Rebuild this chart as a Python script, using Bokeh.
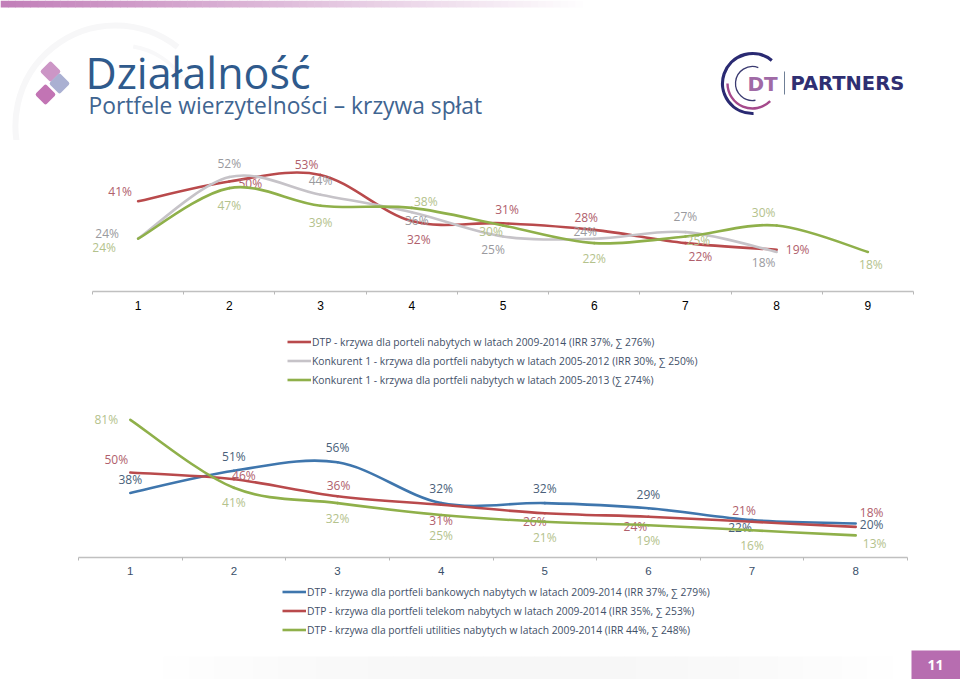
from bokeh.plotting import figure
from bokeh.layouts import column
from bokeh.models import Range1d, FixedTicker, Legend, LegendItem, ColumnDataSource
from bokeh.core.properties import value
from bokeh.embed import file_html
from bokeh.resources import INLINE
import numpy as np

# ---------- data ----------
cats_top = [1, 2, 3, 4, 5, 6, 7, 8, 9]
dtp_top = [41, 50, 53, 32, 31, 28, 22, 19]
k1_top = [24, 52, 44, 36, 25, 24, 27, 18]
k2_top = [24, 47, 39, 38, 30, 22, 25, 30, 18]
legend_top = ["DTP - krzywa dla porteli nabytych w latach 2009-2014 (IRR 37%, ∑ 276%)",
              "Konkurent 1 - krzywa dla portfeli nabytych w latach 2005-2012 (IRR 30%, ∑ 250%)",
              "Konkurent 1 - krzywa dla portfeli nabytych w latach 2005-2013 (∑ 274%)"]

cats_bot = [1, 2, 3, 4, 5, 6, 7, 8]
bank_bot = [38, 51, 56, 32, 32, 29, 22, 20]
tel_bot = [50, 46, 36, 31, 26, 24, 21, 18]
util_bot = [81, 41, 32, 25, 21, 19, 16, 13]
legend_bot = ["DTP - krzywa dla portfeli bankowych nabytych w latach 2009-2014 (IRR 37%, ∑ 279%)",
              "DTP - krzywa dla portfeli telekom nabytych w latach 2009-2014 (IRR 35%, ∑ 253%)",
              "DTP - krzywa dla portfeli utilities nabytych w latach 2009-2014 (IRR 44%, ∑ 248%)"]

title_text = "Działalność"
subtitle_text = "Portfele wierzytelności – krzywa spłat"
page_number = "11"

# ---------- styles ----------
RED, GRAY, GREEN, BLUE = "#b94a4c", "#c6c3c8", "#8fb04a", "#3f76ad"
RED_T, GRAY_T, GREEN_T, BLUE_T = "#b0606c", "#9a9a9e", "#b4c28c", "#4a5f7a"
LEG_T = "#3f5068"
FONT = value("Open Sans")

# label offsets (screen px from the data point)
off_dtp_top = [(-18, -10), (21, 2), (-14, -10), (7, 18), (4, -14), (-8, -12), (15, 13), (21, 0)]
off_k1_top = [(-31, -5), (0, -14), (0, -14), (5, 8), (-10, 13), (-9, -7), (0, -16), (-13, 11)]
off_k2_top = [(-34, 9), (0, 17), (0, 17), (14, -6), (-12, 6), (0, 15), (13, 4), (-13, -13), (3, 13)]
off_bank = [(0, -13), (0, -14), (0, -15), (0, -15), (0, -15), (0, -14), (-12, 7), (16, 1)]
off_tel = [(-14, -13), (10, -4), (1, -11), (0, 16), (-10, 8), (-13, 10), (-8, -11), (16, -14)]
off_util = [(-24, 0), (0, 15), (0, 15), (0, 20), (0, 16), (0, 15), (0, 15), (19, 8)]


def smooth(vals):
    """Bezier segments through the values (Catmull-Rom control points)."""
    y = np.array(vals, float)
    x = np.arange(1, len(y) + 1, dtype=float)
    P = np.column_stack([x, y])
    P = np.vstack([P[0], P, P[-1]])
    seg = []
    for i in range(1, len(P) - 2):
        c0 = P[i] + (P[i + 1] - P[i - 1]) / 6
        c1 = P[i + 1] - (P[i + 2] - P[i]) / 6
        seg.append((P[i], c0, c1, P[i + 1]))
    return dict(x0=[s[0][0] for s in seg], y0=[s[0][1] for s in seg],
                cx0=[s[1][0] for s in seg], cy0=[s[1][1] for s in seg],
                cx1=[s[2][0] for s in seg], cy1=[s[2][1] for s in seg],
                x1=[s[3][0] for s in seg], y1=[s[3][1] for s in seg])


def series(p, vals, color, tcolor, off):
    r = p.bezier(x0="x0", y0="y0", x1="x1", y1="y1", cx0="cx0", cy0="cy0", cx1="cx1", cy1="cy1",
                 source=ColumnDataSource(smooth(vals)), line_color=color, line_width=2.6, line_cap="round")
    src = ColumnDataSource(dict(x=list(range(1, len(vals) + 1)), y=vals, t=[f"{v}%" for v in vals],
                                dx=[o[0] for o in off], dy=[o[1] for o in off]))
    p.text(x="x", y="y", text="t", x_offset="dx", y_offset="dy", source=src, text_align="center",
           text_baseline="middle", text_font=FONT, text_font_size="12px", text_color=tcolor)
    return r


def chart(cats, height, left, right, bottom, ymax, tick_color, tick_font, tick_size):
    p = figure(width=960, height=height, output_backend="svg", toolbar_location=None, frame_align=False,
               x_range=Range1d(cats[0] - 0.5, cats[-1] + 0.5), y_range=Range1d(0, ymax),
               min_border_left=left, min_border_right=right, min_border_top=0, min_border_bottom=bottom)
    p.outline_line_color = None
    p.grid.visible = False
    p.yaxis.visible = False
    ax = p.xaxis[0]
    ax.ticker = FixedTicker(ticks=cats, minor_ticks=[c - 0.5 for c in cats] + [cats[-1] + 0.5])
    ax.axis_line_color = "#c0c0c0"
    ax.axis_line_width = 1.4
    ax.major_tick_line_color = None
    ax.major_tick_out = 0
    ax.major_tick_in = 0
    ax.minor_tick_line_color = "#b8b8b8"
    ax.minor_tick_out = 3
    ax.minor_tick_in = 0
    ax.major_label_standoff = 6
    ax.major_label_text_color = tick_color
    ax.major_label_text_font = tick_font
    ax.major_label_text_font_size = tick_size
    return p


def plain(height, y0, y1):
    p = figure(width=960, height=height, output_backend="svg", toolbar_location=None, frame_align=False,
               x_range=Range1d(0, 960), y_range=Range1d(y1, y0),
               min_border_left=0, min_border_right=0, min_border_top=0, min_border_bottom=0)
    p.axis.visible = False
    p.grid.visible = False
    p.outline_line_color = None
    return p


def legend_fig(height, colors, labels, x, y):
    p = plain(height, 0, height)
    items = []
    for c, l in zip(colors, labels):
        # sample line kept off the visible range: only its legend key is shown
        r = p.line(x=[-20, -10], y=[-20, -10], line_color=c, line_width=2.6)
        items.append(LegendItem(label=l, renderers=[r]))
    lg = Legend(items=items, location=(x, y), padding=0, margin=0, spacing=0, glyph_width=24, glyph_height=19,
                label_height=19, label_standoff=1, background_fill_alpha=0, border_line_color=None,
                label_text_font="Open Sans", label_text_font_size="10.3px", label_text_color=LEG_T,
                label_text_baseline="middle")
    p.add_layout(lg, "center")
    return p


def fade(rgb, amounts):
    """Hex colours of rgb blended towards white."""
    c = np.array(rgb, float)
    return ["#%02x%02x%02x" % tuple(int(v) for v in (255 - (255 - c) * a)) for a in amounts]


# ---------- header ----------
h = plain(140, 0, 140)

edges = np.linspace(0, 590, 80)
h.quad(left=edges[:-1], right=edges[1:] + 0.6, top=0, bottom=7,
       fill_color=fade((194, 127, 185), np.linspace(1.0, 0.0, 79)), line_color=None)
h.arc(x=115, y=125, radius=100, start_angle=0.9, end_angle=3.6, direction="anticlock",
      line_color="#f7f7f8", line_width=6)
h.arc(x=120, y=120, radius=75, start_angle=0.6, end_angle=1.4, direction="anticlock",
      line_color="#f8f8f9", line_width=4)

h.rect(x=[50, 59, 45], y=[71, 83, 94], width=15, height=15, width_units="screen", height_units="screen",
       angle=45, angle_units="deg", fill_color=["#cc96c6", "#aab0d2", "#c274b4"], line_color=None,
       border_radius=2)
h.text(x=[85], y=[71.5], text=[title_text], text_font=FONT, text_font_size="43px", text_color="#2f5a8c",
       text_baseline="middle")
h.text(x=[88], y=[105], text=[subtitle_text], text_font=FONT, text_font_size="22.8px", text_color="#3f6591",
       text_baseline="middle")

# logo
h.arc(x=752, y=83, radius=30, start_angle=50, end_angle=272, start_angle_units="deg", end_angle_units="deg",
      direction="anticlock", line_color="#2a2a72", line_width=3.2)
h.arc(x=752, y=83, radius=17, start_angle=70, end_angle=280, start_angle_units="deg", end_angle_units="deg",
      direction="anticlock", line_color="#3a3a70", line_width=1.3)
h.arc(x=752, y=83, radius=25, start_angle=180, end_angle=315, start_angle_units="deg", end_angle_units="deg",
      direction="anticlock", line_color="#a54a8c", line_width=2.4)
h.text(x=[747], y=[83], text=["DT"], text_font=value("DejaVu Sans"), text_font_style="bold",
       text_font_size="20px", text_color="#a06aa6", text_baseline="middle")
h.segment(x0=[784], y0=[71], x1=[784], y1=[94], line_color="#6f7f96", line_width=1)
h.text(x=[790], y=[83], text=["PARTNERS"], text_font=value("DejaVu Sans"), text_font_style="bold",
       text_font_size="19.5px", text_color="#2f2f72", text_baseline="middle")

# ---------- top chart ----------
p1 = chart(cats_top, 180, 92, 47, 29, 151 / 2.2, "#000000", "Liberation Sans", "12px")
series(p1, dtp_top, RED, RED_T, off_dtp_top)
series(p1, k1_top, GRAY, GRAY_T, off_k1_top)
series(p1, k2_top, GREEN, GREEN_T, off_k2_top)
leg1 = legend_fig(80, [RED, GRAY, GREEN], legend_top, 287, 11)

# ---------- bottom chart ----------
p2 = chart(cats_bot, 180, 78, 53, 23, 157 / 1.7, "#3a4f6a", "Liberation Sans", "11.5px")
series(p2, bank_bot, BLUE, BLUE_T, off_bank)
series(p2, tel_bot, RED, RED_T, off_tel)
series(p2, util_bot, GREEN, GREEN_T, off_util)
leg2 = legend_fig(65, [BLUE, RED, GREEN], legend_bot, 282, 6)

# ---------- footer ----------
f = plain(34, 645, 679)
band = np.linspace(150, 905, 60)
f.quad(left=band[:-1], right=band[1:] + 0.6, top=656, bottom=679,
       fill_color=fade((242, 242, 242), np.sin(np.linspace(0, np.pi, 59)) * 0.6), line_color=None)
f.quad(left=[911], right=[960], top=[650], bottom=[679], fill_color="#b76db0", line_color=None)
f.text(x=[935], y=[664], text=[page_number], text_font=FONT, text_font_style="bold", text_font_size="14px",
       text_color="#ffffff", text_align="center", text_baseline="middle")

layout = column(h, p1, leg1, p2, leg2, f, spacing=0)
open("out.html", "w").write(file_html(layout, INLINE))
